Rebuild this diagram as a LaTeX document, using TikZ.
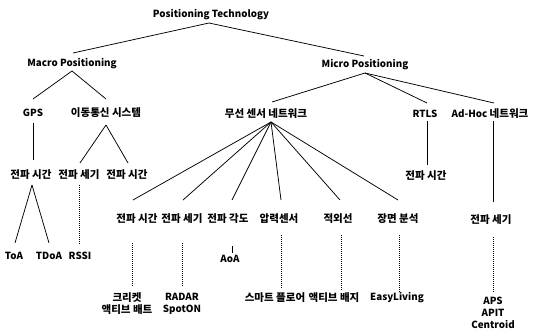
\documentclass[tikz,border=0pt]{standalone}
\usepackage{fontspec}
\setmainfont{Noto Sans CJK KR}
\newcommand{\kr}{\fontsize{10.5}{13}\selectfont}
\begin{document}
\begin{tikzpicture}[x=1pt,y=-1pt,
  lbl/.style={inner sep=0pt,font=\fontsize{9.8}{12}\selectfont\bfseries,align=center},
  conn/.style={line width=0.75pt},
  dotconn/.style={line width=0.8pt,dash pattern=on 1pt off 1pt}]
\useasboundingbox (0,0) rectangle (535,331);
% nodes
\node[lbl] (pt) at (211,15) {Positioning Technology};
\node[lbl] (macro) at (72,64) {Macro Positioning};
\node[lbl] (micro) at (365,65) {Micro Positioning};
\node[lbl] (gps) at (33,113) {GPS};
\node[lbl] (mob) at (106,113) {\kr 이동통신 시스템};
\node[lbl] (ws) at (266,114) {\kr 무선 센서 네트워크};
\node[lbl] (rtls) at (425,114) {RTLS};
\node[lbl] (adhoc) at (490,114) {Ad-Hoc {\kr 네트워크}};
\node[lbl] (l1) at (31,175) {\kr 전파 시간};
\node[lbl] (l2) at (79,175) {\kr 전파 세기};
\node[lbl] (l3) at (127,175) {\kr 전파 시간};
\node[lbl] (r1) at (426,176) {\kr 전파 시간};
\node[lbl] (toa) at (14,256) {ToA};
\node[lbl] (tdoa) at (49,256) {TDoA};
\node[lbl] (rssi) at (80,256) {RSSI};
\node[lbl] (w1) at (137,219) {\kr 전파 시간};
\node[lbl] (w2) at (182,219) {\kr 전파 세기};
\node[lbl] (w3) at (228,219) {\kr 전파 각도};
\node[lbl] (w4) at (279,219) {\kr 압력센서};
\node[lbl] (w5) at (338,219) {\kr 적외선};
\node[lbl] (w6) at (398,219) {\kr 장면 분석};
\node[lbl] (a1) at (491,220) {\kr 전파 세기};
\node[lbl] (aoa) at (230,259) {AoA};
\node[lbl] (cricket) at (127,304) {\kr 크리켓\\\kr 액티브 배트};
\node[lbl] (radar) at (182,304) {RADAR\\SpotON};
\node[lbl] (smart) at (275,298) {\kr 스마트 플로어};
\node[lbl] (badge) at (334,298) {\kr 액티브 배지};
\node[lbl] (easy) at (397,298) {EasyLiving};
\node[lbl] (aps) at (493,313) {APS\\APIT\\Centroid};
\coordinate (hub) at ([xshift=5pt,yshift=-8pt]ws.center);
% connectors
\draw[conn] ([xshift=-2pt,yshift=-8pt]pt.center) -- ([xshift=1pt,yshift=11pt]macro.center);
\draw[conn] ([xshift=-2pt,yshift=-8pt]pt.center) -- ([xshift=-1pt,yshift=9pt]micro.center);
\draw[conn] ([yshift=-7pt]macro.center) -- ([yshift=14pt]gps.center);
\draw[conn] ([yshift=-7pt]macro.center) -- ([yshift=14pt]mob.center);
\draw[conn] ([yshift=-8pt]micro.center) -- ([xshift=6pt,yshift=12pt]ws.center);
\draw[conn] ([yshift=-8pt]micro.center) -- ([xshift=2pt,yshift=11pt]rtls.center);
\draw[conn] ([yshift=-8pt]micro.center) -- ([xshift=4pt,yshift=11pt]adhoc.center);
\draw[conn] ([yshift=-10pt]gps.center) -- ([xshift=2pt,yshift=15pt]l1.center);
\draw[conn] ([yshift=-12pt]mob.center) -- ([xshift=1pt,yshift=12pt]l2.center);
\draw[conn] ([yshift=-12pt]mob.center) -- ([xshift=1pt,yshift=12pt]l3.center);
\draw[conn] ([xshift=2pt,yshift=-7pt]rtls.center) -- ([xshift=1pt,yshift=11pt]r1.center);
\draw[conn] ([xshift=3pt,yshift=-7pt]adhoc.center) -- ([xshift=2pt,yshift=18pt]a1.center);
\draw[conn] ([xshift=1pt,yshift=-10pt]l1.center) -- ([xshift=1pt,yshift=13pt]toa.center);
\draw[conn] ([xshift=1pt,yshift=-10pt]l1.center) -- ([yshift=13pt]tdoa.center);
\draw[dotconn] ([yshift=-10pt]l2.center) -- ([xshift=-1pt,yshift=11pt]rssi.center);
\draw[conn] (hub) -- ([xshift=-4pt,yshift=19pt]w1.center);
\draw[conn] (hub) -- ([xshift=1pt,yshift=19pt]w2.center);
\draw[conn] (hub) -- ([xshift=4pt,yshift=19pt]w3.center);
\draw[conn] (hub) -- ([xshift=2pt,yshift=19pt]w4.center);
\draw[conn] (hub) -- ([xshift=2pt,yshift=19pt]w5.center);
\draw[conn] (hub) -- ([yshift=19pt]w6.center);
\draw[dotconn] ([xshift=-5pt,yshift=-24pt]w1.center) -- ([xshift=5pt,yshift=17pt]cricket.center);
\draw[dotconn] ([yshift=-24pt]w2.center) -- ([yshift=17pt]radar.center);
\draw[conn] ([xshift=4pt,yshift=-27pt]w3.center) -- ([xshift=2pt,yshift=6pt]aoa.center);
\draw[dotconn] ([xshift=2pt,yshift=-16pt]w4.center) -- ([xshift=6pt,yshift=10pt]smart.center);
\draw[dotconn] ([xshift=3pt,yshift=-16pt]w5.center) -- ([xshift=7pt,yshift=8pt]badge.center);
\draw[dotconn] ([xshift=1pt,yshift=-16pt]w6.center) -- ([xshift=2pt,yshift=6pt]easy.center);
\draw[dotconn] ([xshift=2pt,yshift=-17pt]a1.center) -- ([yshift=20pt]aps.center);
\end{tikzpicture}
\end{document}
